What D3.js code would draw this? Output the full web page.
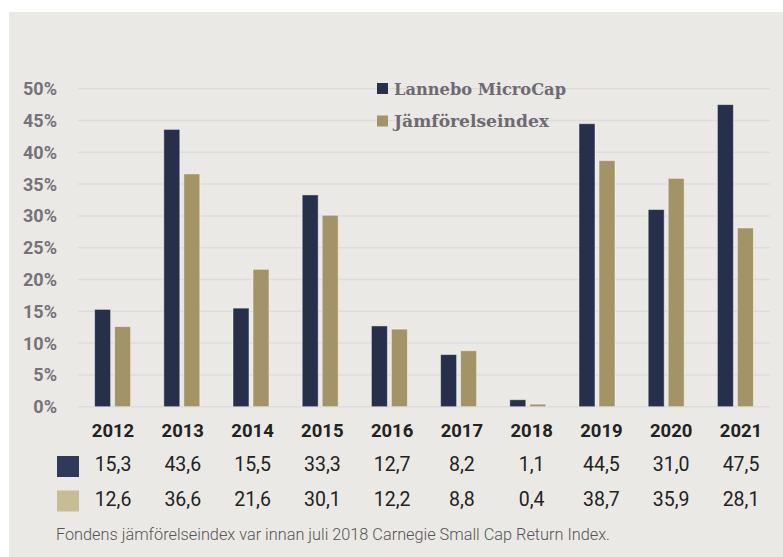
<!DOCTYPE html>
<html><head><meta charset="utf-8">
<script src="https://cdn.jsdelivr.net/npm/d3@7/dist/d3.min.js"></script>
<style>html,body{margin:0;padding:0;background:#fff;}svg{display:block;}</style>
</head><body>
<script>
const years = ["2012","2013","2014","2015","2016","2017","2018","2019","2020","2021"];
const microCap = [15.3,43.6,15.5,33.3,12.7,8.2,1.1,44.5,31.0,47.5];
const benchmark = [12.6,36.6,21.6,30.1,12.2,8.8,0.4,38.7,35.9,28.1];
const yTicks = [0,5,10,15,20,25,30,35,40,45,50];
const seriesNames = ["Lannebo MicroCap","Jämförelseindex"];
const footnote = "Fondens jämförelseindex var innan juli 2018 Carnegie Small Cap Return Index.";

const W = 783, H = 557;
const svg = d3.select("body").append("svg").attr("width", W).attr("height", H);
svg.append("rect").attr("x", 9).attr("y", 12).attr("width", W - 9).attr("height", H - 12).attr("fill", "#ebe9e5");

const x = d3.scaleBand().domain(years).range([78, 770]).padding(0);
const y = d3.scaleLinear().domain([0, 50]).range([406.7, 88.7]);
const navy = "#26304a", tan = "#a39467";

// gridlines
svg.append("g").selectAll("line").data(yTicks).join("line")
  .attr("x1", 78).attr("x2", 770)
  .attr("y1", d => y(d)).attr("y2", d => y(d))
  .attr("stroke", "#dddbe0").attr("stroke-width", 1.5);

// y axis labels
svg.append("g").selectAll("text").data(yTicks).join("text")
  .attr("x", 57).attr("y", d => y(d)).attr("dy", "0.36em")
  .attr("text-anchor", "end")
  .attr("font-family", "Roboto").attr("font-weight", 700).attr("font-size", 18)
  .attr("fill", "#76727a")
  .text(d => d + "%");

// bars
const bw = 16, gap = 2;
const g = svg.append("g");
g.selectAll("rect.m").data(microCap).join("rect").attr("class", "m")
  .attr("x", (d, i) => x(years[i]) + x.bandwidth() / 2 - gap - bw)
  .attr("y", d => y(d)).attr("width", bw).attr("height", d => y(0) - y(d))
  .attr("fill", navy).attr("stroke", "rgba(255,255,255,0.45)").attr("stroke-width", 1);
g.selectAll("rect.b").data(benchmark).join("rect").attr("class", "b")
  .attr("x", (d, i) => x(years[i]) + x.bandwidth() / 2 + gap)
  .attr("y", d => y(d)).attr("width", bw).attr("height", d => y(0) - y(d))
  .attr("fill", tan).attr("stroke", "rgba(255,255,255,0.45)").attr("stroke-width", 1);

// legend
const leg = svg.append("g");
[navy, tan].forEach((c, i) => {
  leg.append("rect").attr("x", 377).attr("y", 83 + i * 32.5).attr("width", 11).attr("height", 11).attr("fill", c);
  leg.append("text").attr("x", 394).attr("y", 95 + i * 32)
    .attr("font-family", "DejaVu Serif").attr("font-weight", 700).attr("font-size", 17)
    .attr("fill", "#6e6a72")
    .attr("textLength", i === 0 ? 172 : 155).attr("lengthAdjust", "spacingAndGlyphs")
    .text(seriesNames[i]);
});

// table
const tx = d3.scalePoint().domain(years).range([113, 741]);
svg.append("g").selectAll("text").data(years).join("text")
  .attr("x", d => tx(d)).attr("y", 437).attr("text-anchor", "middle")
  .attr("font-family", "Roboto").attr("font-weight", 700).attr("font-size", 18.5)
  .attr("fill", "#222").text(d => d);
const fmt = v => v.toFixed(1).replace(".", ",");
[[microCap, 471, "#2f3a5b"], [benchmark, 505.5, "#c8bc95"]].forEach(([vals, yy, c]) => {
  svg.append("rect").attr("x", 57).attr("y", yy - 15).attr("width", 22).attr("height", 21).attr("fill", c);
  svg.append("g").selectAll("text").data(vals).join("text")
    .attr("x", (d, i) => tx(years[i])).attr("y", yy).attr("text-anchor", "middle")
    .attr("font-family", "Roboto").attr("font-size", 19.5).attr("fill", "#222")
    .text(d => fmt(d));
});

svg.append("text").attr("x", 56).attr("y", 540)
  .attr("font-family", "Roboto").attr("font-weight", 300).attr("font-size", 17)
  .attr("fill", "#555").attr("textLength", 554).attr("lengthAdjust", "spacingAndGlyphs")
  .text(footnote);
</script>
</body></html>
